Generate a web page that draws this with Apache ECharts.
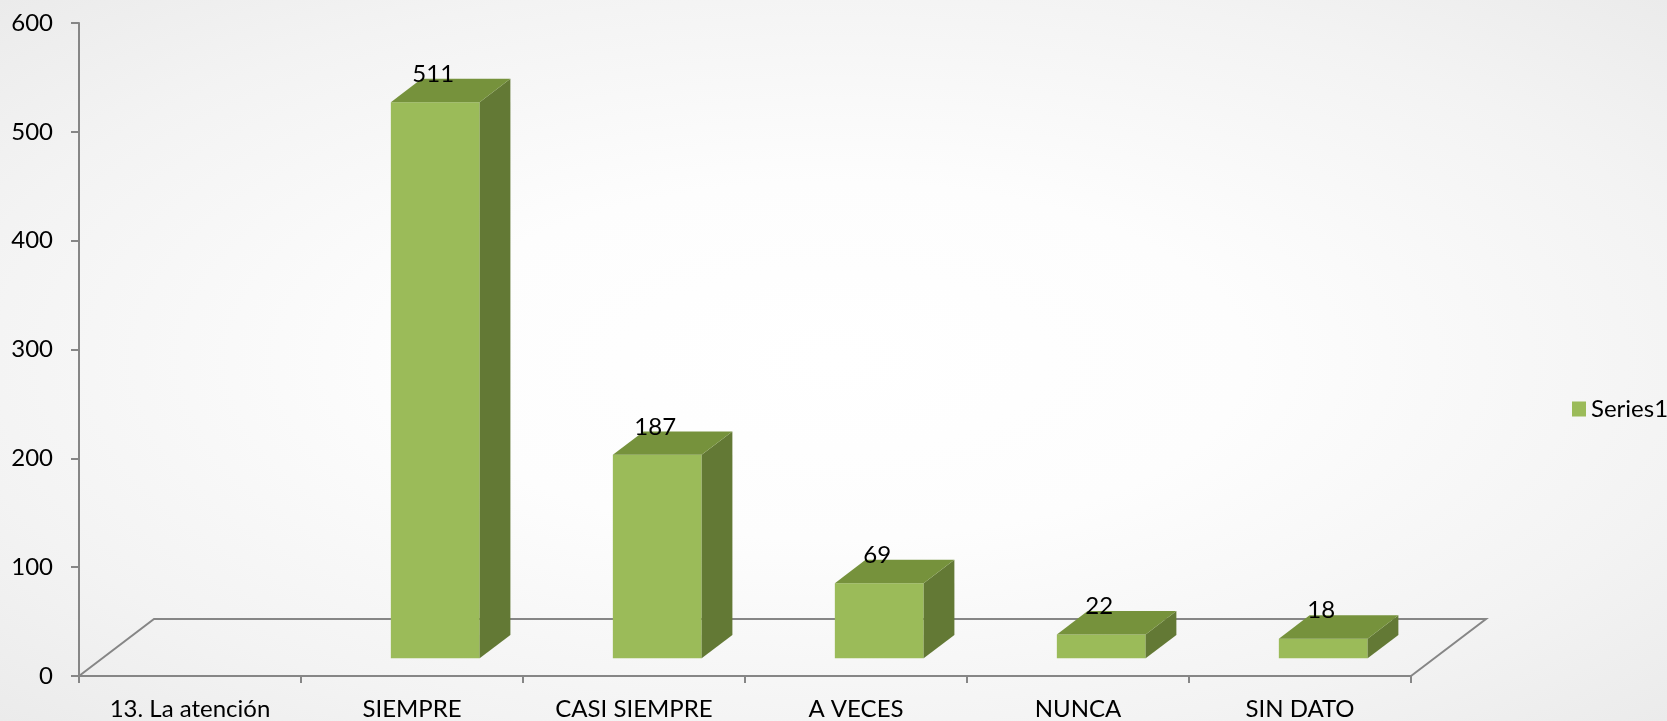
<!DOCTYPE html>
<html>
<head>
<meta charset="utf-8">
<script src="https://cdn.jsdelivr.net/npm/echarts@6/dist/echarts.min.js"></script>
<style>
html,body{margin:0;padding:0;}
#c{width:1667px;height:721px;background:radial-gradient(ellipse at 50% 50%, #ffffff 0%, #fdfdfd 35%, #f3f3f3 75%, #ebebeb 100%);}
</style>
</head>
<body>
<div id="c"></div>
<script>
// ---- data ----
const categories = ['13. La atención', 'SIEMPRE', 'CASI SIEMPRE', 'A VECES', 'NUNCA', 'SIN DATO'];
const values = [null, 511, 187, 69, 22, 18];
const seriesName = 'Series1';
const yMin = 0, yMax = 600, yStep = 100;

// ---- styles ----
const FONT = 'Lato, "Open Sans", sans-serif';
const FRONT = '#9BBB59', TOP = '#76923C', SIDE = '#637935';
const LINE = '#868686';
const FLOOR_DEPTH = [75, -57];   // projected depth of the floor, px
const BAR_FRONT = 0.31;          // bar front position along depth
const BAR_DEPTH = 0.41;          // bar depth as fraction of floor depth
const BAR_WIDTH = 0.4;           // fraction of band

const chart = echarts.init(document.getElementById('c'), null, {renderer: 'canvas'});

function renderFloor(params, api) {
  if (params.dataIndex !== 0) return;
  const band = api.size([1, 0])[0];
  const first = api.coord([0, 0]);
  const last = api.coord([categories.length - 1, 0]);
  const x0 = first[0] - band / 2, x1 = last[0] + band / 2, y = first[1];
  const dx = FLOOR_DEPTH[0], dy = FLOOR_DEPTH[1];
  return {
    type: 'polyline',
    shape: {points: [[x0, y], [x0 + dx, y + dy], [x1 + dx, y + dy], [x1, y]]},
    style: {stroke: LINE, lineWidth: 2, fill: null},
    silent: true
  };
}

function renderBar(params, api) {
  const v = api.value(1);
  if (v === null || v === undefined || isNaN(v)) return;
  const idx = api.value(0);
  const base = api.coord([idx, 0]);
  const top = api.coord([idx, v]);
  const band = api.size([1, 0])[0];
  const w = band * BAR_WIDTH;
  const fx = FLOOR_DEPTH[0] * BAR_FRONT, fy = FLOOR_DEPTH[1] * BAR_FRONT;
  const dx = FLOOR_DEPTH[0] * BAR_DEPTH, dy = FLOOR_DEPTH[1] * BAR_DEPTH;
  const xl = base[0] - w / 2 + fx, xr = base[0] + w / 2 + fx;
  const yb = base[1] + fy, yt = top[1] + fy;
  return {
    type: 'group',
    children: [
      {type: 'polygon', shape: {points: [[xl, yb], [xr, yb], [xr, yt], [xl, yt]]}, style: {fill: FRONT}},
      {type: 'polygon', shape: {points: [[xr, yb], [xr + dx, yb + dy], [xr + dx, yt + dy], [xr, yt]]}, style: {fill: SIDE}},
      {type: 'polygon', shape: {points: [[xl, yt], [xr, yt], [xr + dx, yt + dy], [xl + dx, yt + dy]]}, style: {fill: TOP}},
      {type: 'text', x: (xl + xr) / 2 - 2, y: yt - 28,
       style: {text: String(v), fill: '#000', font: '24px ' + FONT, align: 'center', verticalAlign: 'middle'}}
    ]
  };
}

chart.setOption({
  animation: false,
  backgroundColor: 'transparent',
  grid: {left: 79, right: 256, top: 23, bottom: 45, containLabel: false},
  legend: {
    data: [{name: seriesName, icon: 'rect'}],
    left: 1567, top: 392,
    itemWidth: 14, itemHeight: 15, itemGap: 10,
    textStyle: {fontFamily: FONT, fontSize: 24, color: '#000'}
  },
  xAxis: {
    type: 'category',
    data: categories,
    boundaryGap: true,
    axisLine: {show: true, lineStyle: {color: LINE, width: 2}},
    axisTick: {show: true, length: 7, lineStyle: {color: LINE, width: 2}},
    axisLabel: {interval: 0, fontFamily: FONT, fontSize: 24, color: '#000', margin: 21},
    splitLine: {show: false}
  },
  yAxis: {
    type: 'value',
    min: yMin, max: yMax, interval: yStep,
    axisLine: {show: true, lineStyle: {color: LINE, width: 2}},
    axisTick: {show: true, length: 8, lineStyle: {color: LINE, width: 2}},
    axisLabel: {fontFamily: FONT, fontSize: 24, color: '#000', margin: 26},
    splitLine: {show: false}
  },
  series: [
    {
      type: 'custom', name: '__floor', renderItem: renderFloor,
      data: values.map((v, i) => [i, 0]), encode: {x: 0, y: 1}, z: 1, silent: true
    },
    {
      type: 'custom', name: seriesName, renderItem: renderBar,
      itemStyle: {color: FRONT},
      data: values.map((v, i) => [i, v]), encode: {x: 0, y: 1}, z: 2
    }
  ]
});
</script>
</body>
</html>
